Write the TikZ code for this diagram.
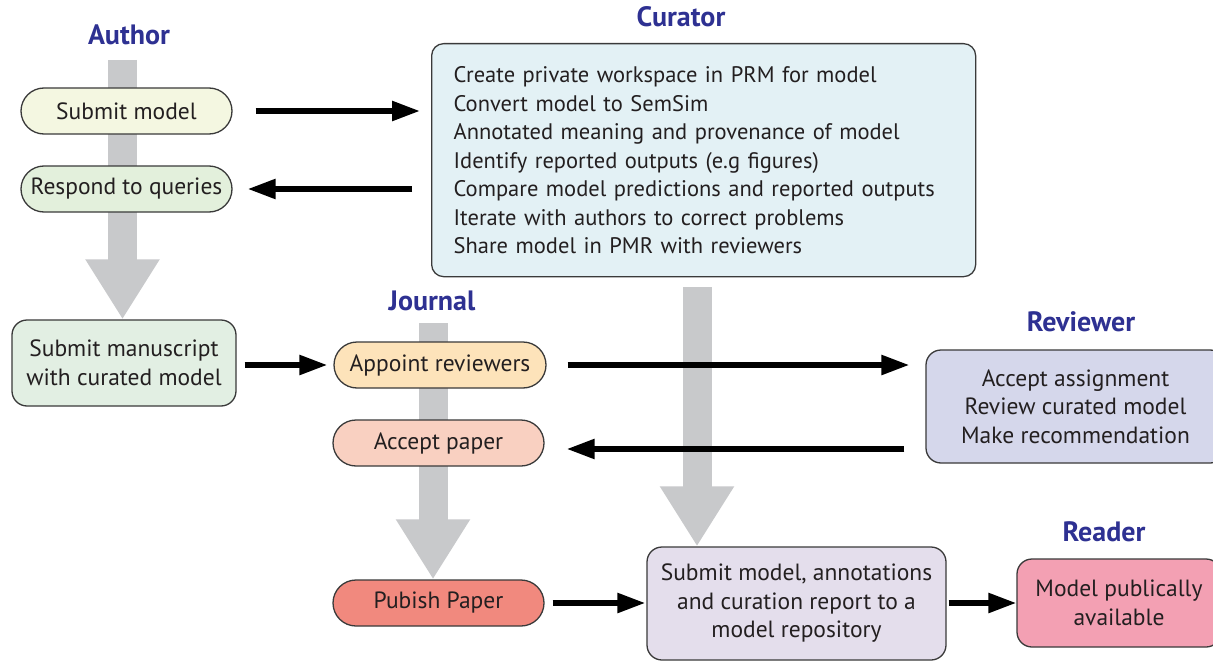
\documentclass[tikz,border=0pt]{standalone}
\usepackage{fontspec}
\setmainfont{PT Sans}
\usetikzlibrary{arrows.meta,calc}
\pgfdeclarelayer{background}
\pgfsetlayers{background,main}

\definecolor{titleblue}{HTML}{2E3192}
\definecolor{ink}{HTML}{231F20}
\definecolor{boxline}{HTML}{3A3A3A}
\definecolor{shaftgray}{HTML}{C8C9CB}
\definecolor{cYellow}{HTML}{F4F7E1}
\definecolor{cGreen}{HTML}{E3F0DC}
\definecolor{cMint}{HTML}{E2EFE3}
\definecolor{cBlue}{HTML}{E3F1F5}
\definecolor{cOrange}{HTML}{FDE3BA}
\definecolor{cPeach}{HTML}{F9D0C1}
\definecolor{cSalmon}{HTML}{F1897E}
\definecolor{cPeri}{HTML}{D5D7EB}
\definecolor{cLilac}{HTML}{E4DEEC}
\definecolor{cPink}{HTML}{F3A0B3}

\tikzset{
  box/.style={draw=boxline, line width=1.3pt, text=ink,
    font=\fontsize{23.5}{28.5}\selectfont, align=center, inner sep=0pt},
  pill/.style={box, rounded corners=23pt, minimum width=211pt, minimum height=46pt},
  panel/.style={box, rounded corners=15pt},
  flow/.style={-{Triangle[length=28pt,width=19pt]}, line width=5.5pt, draw=black},
  bigarrow/.style={-{Triangle[length=60pt,width=70pt]}, line width=29pt, draw=shaftgray},
  role/.style={font=\fontsize{28}{32}\selectfont\bfseries, text=titleblue}
}

\begin{document}
\begin{tikzpicture}[x=1pt,y=-1pt]
\useasboundingbox (0,0) rectangle (1213,661);

% role headings
\node[role] (tauthor)   at (129,35)   {Author};
\node[role] (tcurator)  at (681,17)   {Curator};
\node[role] (tjournal)  at (432,301)  {Journal};
\node[role] (treviewer) at (1081,322) {Reviewer};
\node[role] (treader)   at (1104,532) {Reader};

% author column
\node[pill, fill=cYellow] (submit)  at (126.5,111) {Submit model};
\node[pill, fill=cGreen]  (respond) at (126.5,189) {Respond to queries};
\node[panel, fill=cMint, minimum width=224pt, minimum height=86pt] (manu) at (124,363)
  {Submit manuscript\\with curated model};

% curator tasks
\node[box, fill=cBlue, rounded corners=12pt, anchor=north west, align=left,
      inner xsep=22pt, text width=500pt, minimum height=233pt,
      font=\fontsize{22.5}{28.5}\selectfont] (cur) at (431,43)
  {Create private workspace in PRM for model\\
   Convert model to SemSim\\
   Annotated meaning and provenance of model\\
   Identify reported outputs (e.g figures)\\
   Compare model predictions and reported outputs\\
   Iterate with authors to correct problems\\
   Share model in PMR with reviewers};

% journal column
\node[pill, fill=cOrange, minimum width=212pt] (appoint) at (440,365)   {Appoint reviewers};
\node[pill, fill=cPeach]  (accept)  at (438.5,443) {Accept paper};
\node[pill, fill=cSalmon] (pub)     at (438.5,603) {Pubish Paper};

% reviewer, repository and reader
\node[panel, fill=cPeri, minimum width=299pt, minimum height=113pt] (rev) at (1075.5,406.5)
  {Accept assignment\\Review curated model\\Make recommendation};
\node[panel, fill=cLilac, minimum width=299pt, minimum height=113pt] (sub) at (796.5,603.5)
  {Submit model, annotations\\and curation report to a\\model repository};
\node[panel, fill=cPink, minimum width=204pt, minimum height=88pt] (reader) at (1119,603)
  {Model publically\\available};

% broad grey flow arrows behind the boxes
\coordinate (atop) at (122.5,60);
\coordinate (jtop) at (433,323);
\coordinate (ctop) at (697,287);
\begin{pgfonlayer}{background}
  \fill[white] (0,0) rectangle (1213,661);
  \draw[bigarrow] (atop) -- (atop |- manu.north);
  \draw[bigarrow] (jtop) -- (jtop |- pub.north);
  \draw[bigarrow] (ctop) -- (ctop |- sub.north);
\end{pgfonlayer}

% hand-offs between roles
\draw[flow, shorten <=23pt, shorten >=11pt] (submit.east) -- (submit.east -| cur.west);
\draw[flow, shorten <=19pt, shorten >=15pt] (respond.east -| cur.west) -- (respond.east);
\draw[flow, shorten <=8pt, shorten >=6pt] (manu.east |- appoint.west) -- (appoint.west);
\draw[flow, shorten <=21pt, shorten >=16pt] (appoint.east) -- (appoint.east -| rev.west);
\coordinate (ra) at ([yshift=-6pt]accept.east);
\draw[flow, shorten <=21pt, shorten >=22pt] (ra -| rev.west) -- (ra);
\draw[flow, shorten <=8pt, shorten >=1pt] (pub.east) -- (pub.east -| sub.west);
\draw[flow, shorten <=2pt] (sub.east |- reader.west) -- (reader.west);
\end{tikzpicture}
\end{document}
